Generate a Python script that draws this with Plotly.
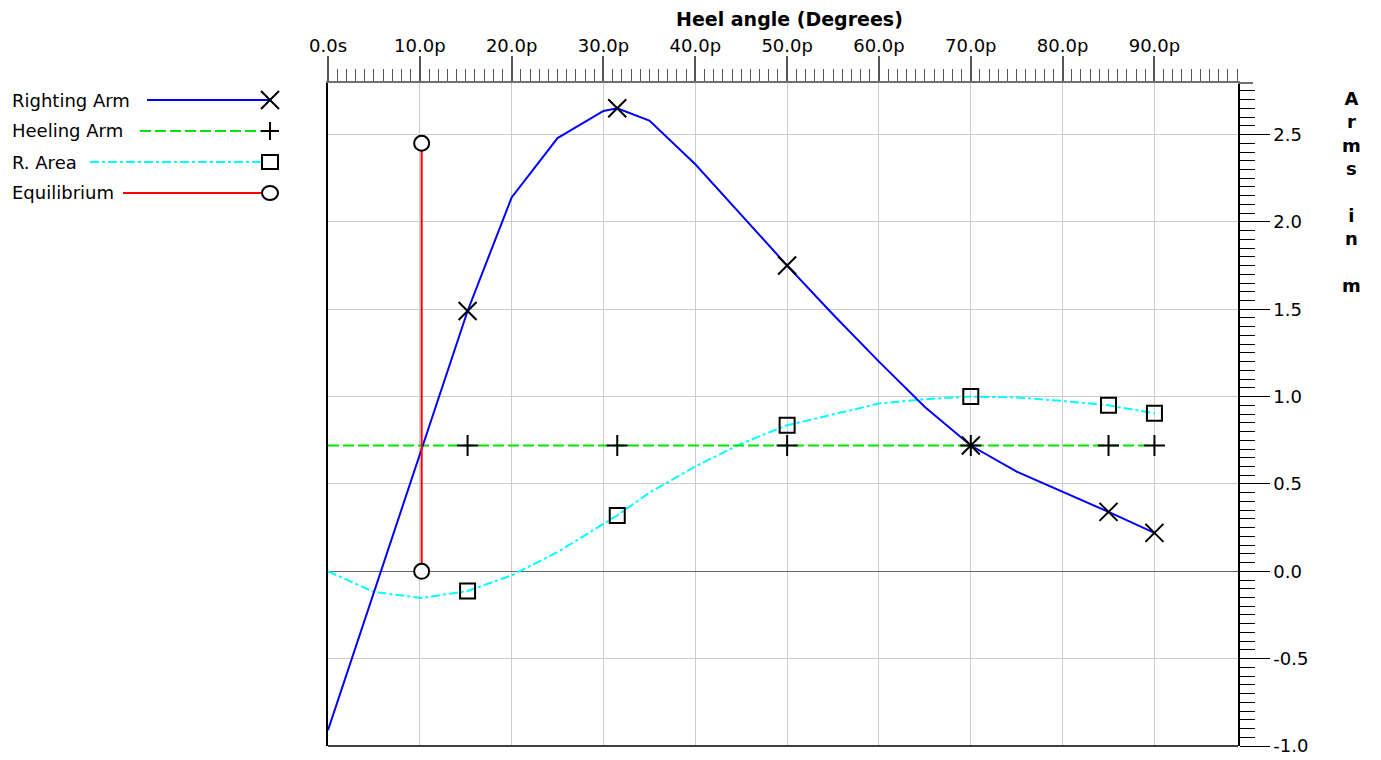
import plotly.graph_objects as go

# ---------------- data ----------------
ra_angle = [0, 15.2, 20, 25, 30, 31.5, 35, 40, 45, 50, 55, 60, 65, 70, 75, 80, 85, 90]
ra_value = [-0.91, 1.49, 2.14, 2.48, 2.635, 2.65, 2.58, 2.33, 2.04, 1.75, 1.47, 1.20,
            0.94, 0.72, 0.57, 0.455, 0.34, 0.22]

area_angle = [0, 5, 10.2, 15.2, 20, 25, 31.5, 35, 40, 45, 50, 55, 60, 65, 70, 75, 80, 85, 90]
area_value = [0.0, -0.118, -0.153, -0.113, -0.023, 0.11, 0.32, 0.45, 0.60, 0.73, 0.836,
              0.90, 0.96, 0.985, 1.0, 0.995, 0.975, 0.95, 0.905]

heel_angle = [0, 90]
heel_value = [0.72, 0.72]

marker_angle = [15.2, 31.5, 50, 70, 85, 90]

equil_angle = [10.2, 10.2]
equil_value = [0.0, 2.45]

x_tickvals = [0, 10, 20, 30, 40, 50, 60, 70, 80, 90]
x_ticktext = ["0.0s", "10.0p", "20.0p", "30.0p", "40.0p", "50.0p", "60.0p", "70.0p", "80.0p", "90.0p"]
y_tickvals = [-1.0, -0.5, 0.0, 0.5, 1.0, 1.5, 2.0, 2.5]
y_ticktext = ["-1.0", "-0.5", "0.0", "0.5", "1.0", "1.5", "2.0", "2.5"]

series_names = ["Righting Arm", "Heeling Arm", "R. Area", "Equilibrium"]
series_colors = ["#0000ff", "#00e600", "#00ffff", "#ff0000"]
series_dash = ["solid", "11px,4px", "9px,3px,3px,3px", "solid"]

# ---------------- figure ----------------
ra_lookup = dict(zip(ra_angle, ra_value))
area_lookup = dict(zip(area_angle, area_value))

fig = go.Figure()
fig.add_trace(go.Scatter(x=area_angle, y=area_value, mode="lines",
                         line=dict(color=series_colors[2], width=2, dash=series_dash[2])))
fig.add_trace(go.Scatter(x=heel_angle, y=heel_value, mode="lines",
                         line=dict(color=series_colors[1], width=2, dash=series_dash[1])))
fig.add_trace(go.Scatter(x=ra_angle, y=ra_value, mode="lines",
                         line=dict(color=series_colors[0], width=2)))
fig.add_trace(go.Scatter(x=equil_angle, y=equil_value, mode="lines",
                         line=dict(color=series_colors[3], width=2)))

mk_line = dict(color="black", width=2)
fig.add_trace(go.Scatter(x=marker_angle, y=[area_lookup[a] for a in marker_angle], mode="markers",
                         marker=dict(symbol="square-open", size=15, color="black", line=mk_line)))
fig.add_trace(go.Scatter(x=marker_angle, y=[heel_value[0]] * len(marker_angle), mode="markers",
                         marker=dict(symbol="cross-thin-open", size=15, color="black", line=mk_line)))
fig.add_trace(go.Scatter(x=marker_angle, y=[ra_lookup[a] for a in marker_angle], mode="markers",
                         marker=dict(symbol="x-thin-open", size=18, color="black", line=mk_line)))
fig.add_trace(go.Scatter(x=equil_angle, y=equil_value, mode="markers",
                         marker=dict(symbol="circle", size=15, color="white", line=mk_line)))

# screen-space layout (page body has an 8px margin)
OFF = 8
W, H = 1381, 760
SL, SR, ST, SB = 328, 1238, 83, 746          # plot area on screen
L, T = SL - OFF, ST - OFF
R = W - (SR - OFF)
B = H - (SB - OFF)
PW, PH = W - L - R, H - T - B


def px(x):
    return (x - OFF - L) / PW


def py(y):
    return (H - B - (y - OFF)) / PH


fig.update_layout(
    width=W, height=H,
    margin=dict(l=L, r=R, t=T, b=B, pad=0),
    paper_bgcolor="white", plot_bgcolor="white",
    showlegend=False,
    font=dict(family="DejaVu Sans", size=18, color="black"),
    xaxis=dict(
        side="top", range=[0, 99.1],
        tickmode="array", tickvals=x_tickvals, ticktext=x_ticktext,
        ticks="outside", ticklen=25, tickwidth=1.5, tickcolor="#555555",
        showline=True, linecolor="#707070", linewidth=2,
        showgrid=True, gridcolor="#cccccc", gridwidth=1, zeroline=False,
        tickfont=dict(family="DejaVu Sans", size=18, color="black"),
        ticklabelstandoff=-3,
        minor=dict(tickmode="linear", tick0=0, dtick=1, ticks="outside", ticklen=12,
                   tickwidth=1, tickcolor="#555555", showgrid=False),
    ),
    yaxis=dict(
        side="right", range=[-1.0, 2.795],
        tickmode="array", tickvals=y_tickvals, ticktext=y_ticktext,
        ticks="outside", ticklen=30, tickwidth=1, tickcolor="black",
        showline=True, linecolor="black", linewidth=1.5, mirror=True,
        showgrid=True, gridcolor="#cccccc", gridwidth=1,
        zeroline=True, zerolinecolor="#666666", zerolinewidth=1,
        tickfont=dict(family="DejaVu Sans", size=18, color="black"),
        minor=dict(tickmode="linear", tick0=0, dtick=0.05, ticks="outside", ticklen=15,
                   tickwidth=1, tickcolor="black", showgrid=False),
    ),
)

shapes = [
    dict(type="line", xref="paper", yref="paper", x0=0, x1=1, y0=0, y1=0,
         line=dict(color="black", width=1.5)),
    dict(type="line", xref="paper", yref="paper", x0=1, x1=px(1253), y0=1, y1=1,
         line=dict(color="#707070", width=2)),
]
annotations = [
    dict(text="<b>Heel angle (Degrees)</b>", xref="paper", yref="paper",
         x=px(789), y=py(19), xanchor="center", yanchor="middle", showarrow=False,
         font=dict(family="DejaVu Sans", size=19, color="black")),
    dict(text="<b>A<br>r<br>m<br>s<br> <br>i<br>n<br> <br>m</b>", xref="paper", yref="paper",
         x=px(1351), y=py(86), xanchor="center", yanchor="top", showarrow=False,
         align="center",
         font=dict(family="DejaVu Sans", size=18, color="black")),
]

# legend drawn in the left margin
row_y = [100, 131, 162, 193]
line_x0 = [147, 140, 90, 123]
sym_x = 270
for i, name in enumerate(series_names):
    yy = py(row_y[i])
    annotations.append(dict(text=name, xref="paper", yref="paper", x=px(10), y=yy,
                            xanchor="left", yanchor="middle", showarrow=False,
                            font=dict(family="DejaVu Sans", size=18, color="black")))
    shapes.append(dict(type="line", xref="paper", yref="paper", x0=px(line_x0[i]), x1=px(sym_x),
                       y0=yy, y1=yy, line=dict(color=series_colors[i], width=2, dash=series_dash[i])))
    common = dict(xref="paper", yref="paper", xsizemode="pixel", ysizemode="pixel",
                  xanchor=px(sym_x), yanchor=yy)
    if i == 0:
        shapes.append(dict(type="path", path="M-9,-9L9,9M-9,9L9,-9",
                           line=dict(color="black", width=2), **common))
    elif i == 1:
        shapes.append(dict(type="path", path="M-9,0L9,0M0,-9L0,9",
                           line=dict(color="black", width=2), **common))
    elif i == 2:
        shapes.append(dict(type="rect", x0=-8, x1=8, y0=-7, y1=7, fillcolor="white",
                           line=dict(color="black", width=2), **common))
    else:
        shapes.append(dict(type="circle", x0=-8, x1=8, y0=-7, y1=7, fillcolor="white",
                           line=dict(color="black", width=2), **common))

fig.update_layout(shapes=shapes, annotations=annotations)

fig.write_html("out.html")
